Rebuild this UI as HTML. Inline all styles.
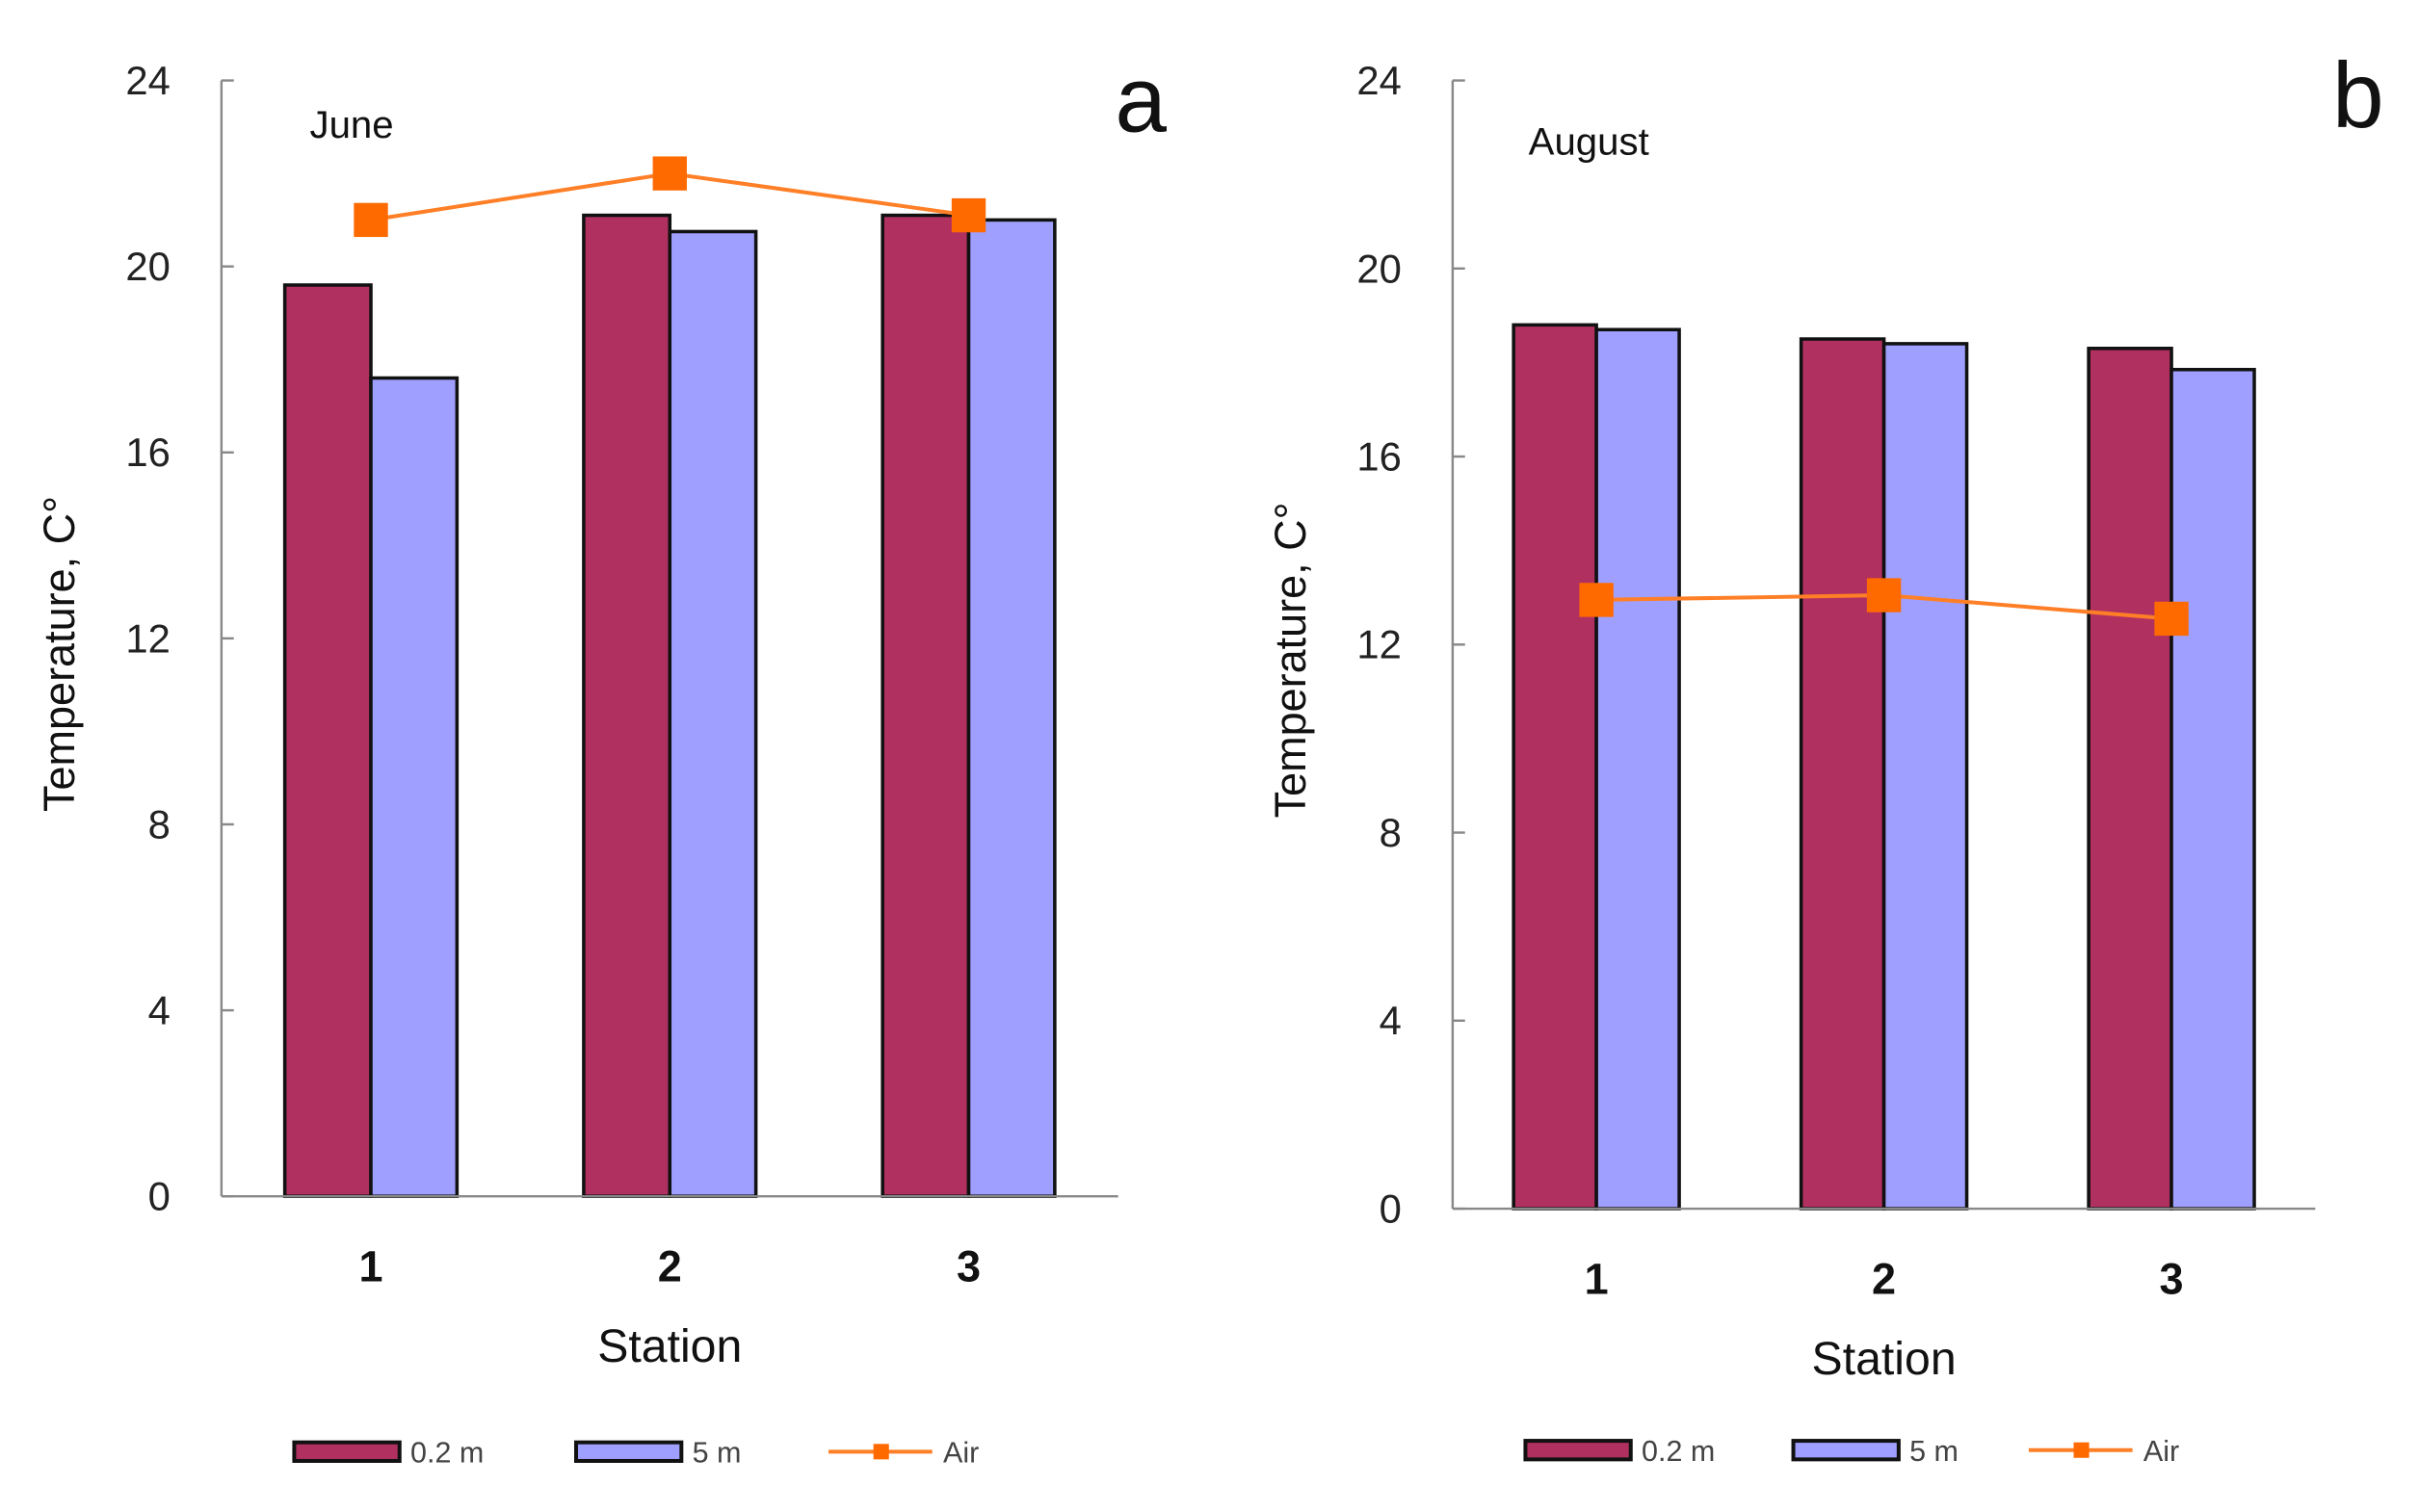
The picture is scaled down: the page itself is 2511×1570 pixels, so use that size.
<!DOCTYPE html>
<html><head><meta charset="utf-8"><style>
html,body{margin:0;padding:0;background:#fff;}
svg{display:block;font-family:"Liberation Sans",sans-serif;}
</style></head><body>
<svg id="chart" width="2511" height="1570" viewBox="0 0 1562 977" preserveAspectRatio="none" xmlns="http://www.w3.org/2000/svg"></svg>
<script>
const categories = ["1","2","3"];
const yTicks = [0,4,8,12,16,20,24];
const juneSurface = [19.6, 21.1, 21.1];
const juneDeep = [17.6, 20.75, 21.0];
const juneAir = [21.0, 22.0, 21.1];
const augSurface = [18.8, 18.5, 18.3];
const augDeep = [18.7, 18.4, 17.85];
const augAir = [12.95, 13.05, 12.55];
const seriesNames = ["0.2 m","5 m","Air"];

const NS="http://www.w3.org/2000/svg";
const svg=document.getElementById('chart');
function mk(tag,attrs,parent,text){const e=document.createElementNS(NS,tag);for(const k in attrs)e.setAttribute(k,attrs[k]);if(text!==undefined)e.textContent=text;(parent||svg).appendChild(e);return e;}

const panels=[
 {id:'a',x0:143,x1:722,yTop:52,yZero:773,month:'June',mx:200,my:89,lx:720,ly:85,s:juneSurface,d:juneDeep,a:juneAir,xlY:828,stY:880,legY:938,leg:[190,372,535]},
 {id:'b',x0:938,x1:1495,yTop:52,yZero:781,month:'August',mx:987,my:100,lx:1506,ly:82,s:augSurface,d:augDeep,a:augAir,xlY:836,stY:888,legY:937,leg:[985,1158,1310]}
];
panels.forEach(p=>{
 const g=mk('g',{});
 
 
 const y=v=>p.yZero-(v/24)*(p.yZero-p.yTop);
 const cw=(p.x1-p.x0)/categories.length;
 const cx=i=>p.x0+cw*(i+0.5);
 const bw=cw*0.288;
 // axes
 const ya=mk('line',{x1:p.x0,y1:p.yTop,x2:p.x0,y2:p.yZero,stroke:'#888','stroke-width':1.5},g);
 
 yTicks.forEach(t=>{
  mk('line',{x1:p.x0,y1:y(t),x2:p.x0+8,y2:y(t),stroke:'#888','stroke-width':1.5},g);
  const tl=mk('text',{x:p.x0-33,y:y(t)+9,'text-anchor':'end','font-size':26,fill:'#222'},g,String(t));
  
 });
 categories.forEach((c,i)=>{
  const r=mk('rect',{x:cx(i)-bw,y:y(p.s[i]),width:bw,height:p.yZero-y(p.s[i]),fill:'#b03060',stroke:'#111','stroke-width':2.2},g);
  
  const b=mk('rect',{x:cx(i),y:y(p.d[i]),width:bw,height:p.yZero-y(p.d[i]),fill:'#9f9fff',stroke:'#111','stroke-width':2.2},g);
  
  const xl=mk('text',{x:cx(i),y:p.xlY,'text-anchor':'middle','font-size':28,'font-weight':'bold',fill:'#111'},g,c);
  
 });
 const xa=mk('line',{x1:p.x0,y1:p.yZero,x2:p.x1,y2:p.yZero,stroke:'#888','stroke-width':1.5},g);
 
 const pts=p.a.map((v,i)=>cx(i)+','+y(v)).join(' ');
 const pl=mk('polyline',{points:pts,fill:'none',stroke:'#ff7f27','stroke-width':2.5},g);
 
 p.a.forEach((v,i)=>{
  const m=mk('rect',{x:cx(i)-11,y:y(v)-11,width:22,height:22,fill:'#ff6a00'},g);
  
 });
 const mt=mk('text',{x:p.mx,y:p.my,'font-size':25,fill:'#111'},g,p.month);
 
 const pl2=mk('text',{x:p.lx,y:p.ly,'font-size':60,fill:'#111'},g,p.id);
 
 const yt=mk('text',{x:0,y:0,'text-anchor':'middle','font-size':28,fill:'#111',transform:`translate(${p.x0-95},${(p.yTop+p.yZero)/2+10}) rotate(-90)`},g,'Temperature, C°');
 
 const st=mk('text',{x:(p.x0+p.x1)/2,y:p.stY,'text-anchor':'middle','font-size':30,fill:'#111'},g,'Station');
 
 // legend
 const lg=mk('g',{},g);
 
 [['#b03060'],['#9f9fff']].forEach((col,k)=>{
  const sw=mk('rect',{x:p.leg[k],y:p.legY-6,width:68,height:12,fill:col[0],stroke:'#111','stroke-width':2.5},lg);
  
  const lt=mk('text',{x:p.leg[k]+75,y:p.legY+7,'font-size':19,fill:'#444'},lg,seriesNames[k]);
  
 });
 mk('line',{x1:p.leg[2],y1:p.legY,x2:p.leg[2]+67,y2:p.legY,stroke:'#ff7f27','stroke-width':2.5},lg);
 mk('rect',{x:p.leg[2]+29,y:p.legY-5,width:10,height:10,fill:'#ff6a00'},lg);
 const at=mk('text',{x:p.leg[2]+74,y:p.legY+7,'font-size':19,fill:'#444'},lg,seriesNames[2]);
 
});
</script>
</body></html>
